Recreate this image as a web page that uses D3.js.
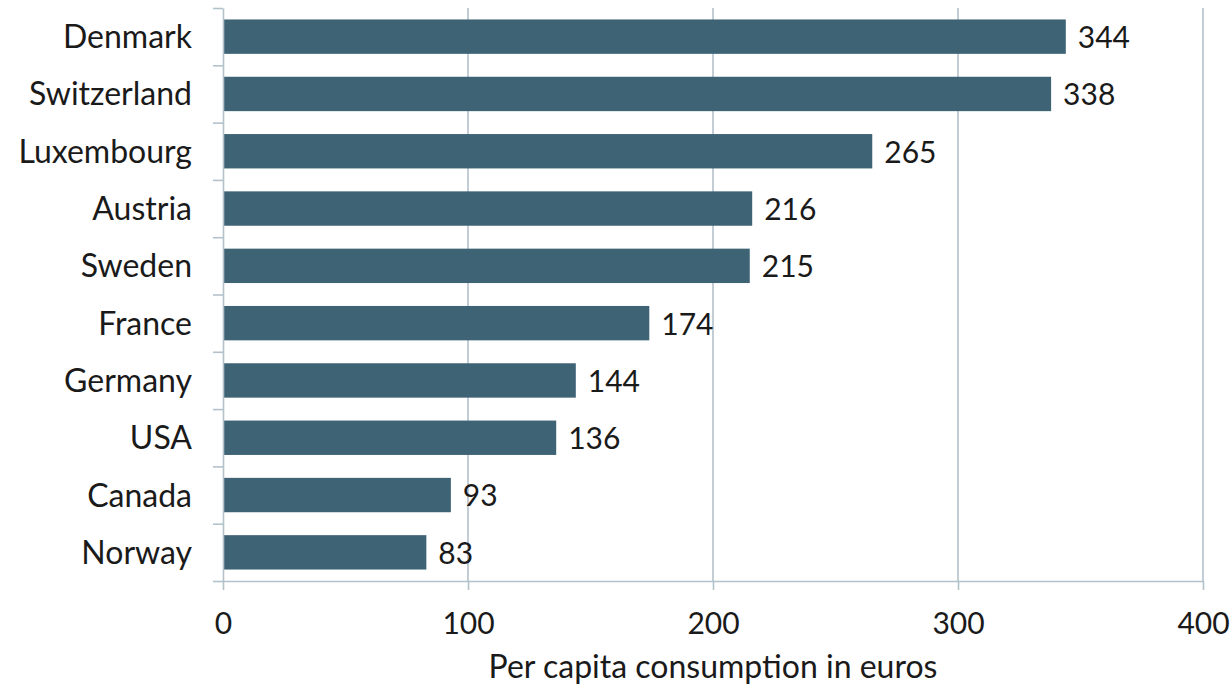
<!DOCTYPE html>
<html lang="en">
  <head>
    <meta charset="utf-8" />
    <title>Per capita consumption</title>
    <script type="text/javascript" src="https://d3js.org/d3.v7.min.js"></script>
    <style>
      body {
        margin: 0;
        background: #fff;
      }
      text {
        font-family: Lato, "Open Sans", sans-serif;
        fill: #1a1a1a;
      }
      .grid line,
      .axis line,
      .axis path {
        stroke: #b3c1cb;
        stroke-width: 1.6px;
      }
      .bar {
        fill: #3d6375;
      }
    </style>
  </head>
  <body>
    <script>
      const countries = ["Denmark", "Switzerland", "Luxembourg", "Austria", "Sweden", "France", "Germany", "USA", "Canada", "Norway"];
      const values = [344, 338, 265, 216, 215, 174, 144, 136, 93, 83];
      const xTicks = [0, 100, 200, 300, 400];
      const xTitle = "Per capita consumption in euros";

      const w = 1231;
      const h = 690;
      const margin = { top: 8, right: 28, bottom: 109, left: 223 };

      const data = countries.map((c, i) => ({ country: c, value: values[i] }));

      const svg = d3.select("body").append("svg").attr("width", w).attr("height", h);

      const x = d3.scaleLinear().domain([0, 400]).range([margin.left, w - margin.right]);
      const y = d3.scaleBand().domain(countries).range([margin.top, h - margin.bottom]).paddingInner(0.4).paddingOuter(0.2);
      // band boundaries for the little ticks on the left axis
      const yEdge = d3.scaleLinear().domain([0, countries.length]).range([margin.top, h - margin.bottom]);

      // vertical gridlines
      svg.append("g")
        .attr("class", "grid")
        .selectAll("line")
        .data(xTicks.slice(1))
        .join("line")
        .attr("x1", (d) => x(d))
        .attr("x2", (d) => x(d))
        .attr("y1", margin.top)
        .attr("y2", h - margin.bottom);

      // bars
      svg.selectAll("rect.bar")
        .data(data)
        .join("rect")
        .attr("class", "bar")
        .attr("x", x(0))
        .attr("y", (d) => y(d.country))
        .attr("width", (d) => x(d.value) - x(0))
        .attr("height", y.bandwidth());

      // value labels
      svg.selectAll("text.val")
        .data(data)
        .join("text")
        .attr("class", "val")
        .attr("x", (d) => x(d.value) + 12)
        .attr("y", (d) => y(d.country) + y.bandwidth() / 2)
        .attr("dy", "0.38em")
        .style("font-size", "30px")
        .text((d) => d.value);

      // left axis: ticks between categories
      svg.append("g")
        .attr("class", "axis")
        .attr("transform", `translate(${margin.left},0)`)
        .call(d3.axisLeft(yEdge).tickValues(d3.range(0, countries.length + 1)).tickFormat("").tickSize(10).tickSizeOuter(0))
        .call((g) => g.selectAll("text").remove());

      // category labels
      svg.append("g")
        .attr("transform", `translate(${margin.left},0)`)
        .call(d3.axisLeft(y).tickSize(0).tickPadding(31))
        .call((g) => g.select(".domain").remove())
        .selectAll("text")
        .style("font-size", "32px")
        .attr("dy", "0.36em");

      // bottom axis
      const xAxis = svg.append("g")
        .attr("class", "axis")
        .attr("transform", `translate(0,${h - margin.bottom})`)
        .call(d3.axisBottom(x).tickValues(xTicks).tickSize(9).tickSizeOuter(0).tickPadding(23));
      xAxis.selectAll("text").style("font-size", "30px");

      // axis title
      svg.append("text")
        .attr("x", (x(0) + x(400)) / 2)
        .attr("y", h - 12)
        .attr("text-anchor", "middle")
        .style("font-size", "32px")
        .text(xTitle);
    </script>
  </body>
</html>
